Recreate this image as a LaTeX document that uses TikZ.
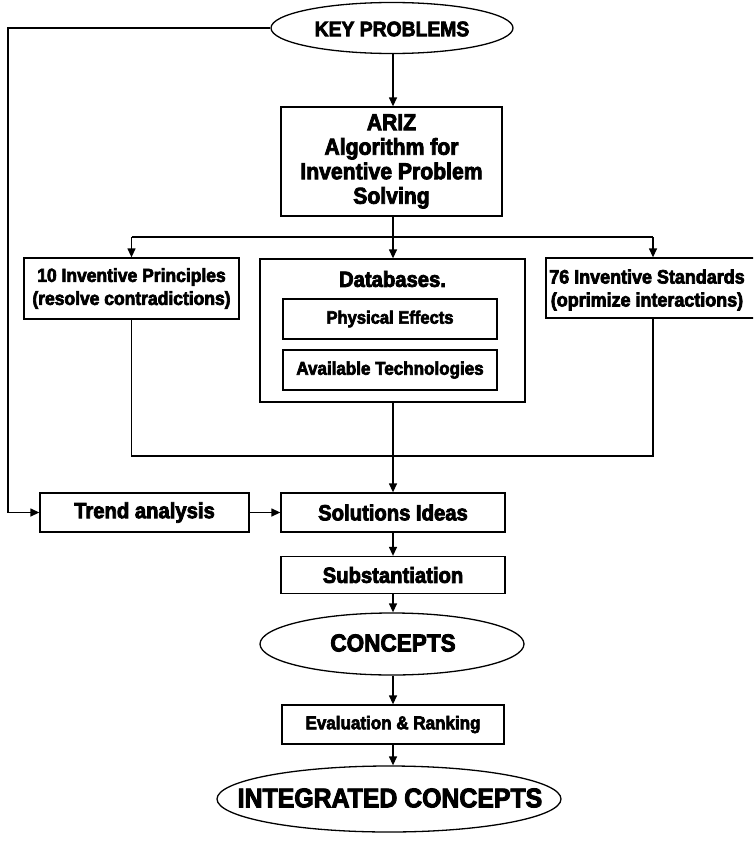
\documentclass[tikz,border=0pt]{standalone}
\usepackage{fontspec}
\newfontfamily\cf[FakeStretch=0.92,BoldFeatures={FakeBold=3.5}]{Liberation Sans}
\usetikzlibrary{shapes.geometric,arrows.meta}
\newcommand\fs[1]{\cf\bfseries\fontsize{#1}{#1}\selectfont}
\begin{document}
\begin{tikzpicture}[x=1pt,y=-1pt,
  line width=1.3pt,
  font=\cf\bfseries,
  box/.style={draw,rectangle,inner sep=0pt,align=center},
  oval/.style={draw,ellipse,inner sep=0pt,align=center},
  lbl/.style={inner sep=0pt,align=center},
  arr/.style={-{Triangle[length=9pt,width=8pt]}},
  ln/.style={-}]
\clip (0,0) rectangle (753,843);
\fill[white] (0,0) rectangle (753,843);

\node[oval,minimum width=242pt,minimum height=51pt] (kp) at (392,28) {};
\node[lbl,font=\fs{21}] (kpt) at (392,29) {KEY PROBLEMS};

\node[box,minimum width=221pt,minimum height=109pt,font={\fs{23}\baselineskip=24.5pt}] (ariz) at (391.5,161.5) {ARIZ\\Algorithm for\\Inventive Problem\\Solving};

\node[box,minimum width=215pt,minimum height=61pt,font={\fs{19}\baselineskip=23pt}] (ip) at (131.5,288.5) {10 Inventive Principles\\(resolve contradictions)};

\node[box,minimum width=265pt,minimum height=143pt] (db) at (392.5,330.5) {};
\node[lbl,font=\fs{22}] (dbt) at (392.5,279) {Databases.};
\node[box,minimum width=214pt,minimum height=40pt,font=\fs{18}] (pe) at (390,319) {Physical Effects};
\node[box,minimum width=214pt,minimum height=40pt,font=\fs{18.5}] (at) at (390,370) {Available Technologies};

\node[box,minimum width=212pt,minimum height=60pt] (is) at (652,288) {};
\node[lbl,font={\fs{19.5}\baselineskip=23pt}] (ist) at (647,290) {76 Inventive Standards\\(oprimize interactions)};

\node[box,minimum width=209pt,minimum height=39pt,font=\fs{22}] (tr) at (144.5,512.5) {Trend analysis};
\node[box,minimum width=224pt,minimum height=39pt,font=\fs{22}] (sol) at (393,512.5) {Solutions Ideas};
\node[box,minimum width=224pt,minimum height=37pt,font=\fs{22}] (sub) at (393,575) {Substantiation};

\node[oval,minimum width=264pt,minimum height=62pt] (con) at (392,644) {};
\node[lbl,font=\fs{24.5}] (cont) at (393,643) {CONCEPTS};

\node[box,minimum width=222pt,minimum height=39pt,font=\fs{18.5}] (ev) at (393,724.5) {Evaluation \& Ranking};

\node[oval,minimum width=344pt,minimum height=66pt] (ic) at (389,799) {};
\node[lbl,font=\fs{27}] (ict) at (390,798) {INTEGRATED CONCEPTS};

\coordinate (br) at (393,237);
\coordinate (bl) at (131.5,237);
\coordinate (brr) at (653,237);
\coordinate (cl) at (131.5,456);
\coordinate (cr) at (653,456);
\coordinate (lt) at (8,28);
\coordinate (lb) at (8,512.5);

% connectors
\draw[arr] (kp.south -| br) -- (br |- ariz.north);
\draw[ln] (ariz.south -| br) -- (br);
\draw[ln] (bl) -- (brr);
\draw[arr] (bl) -- (ip.north);
\draw[arr] (br) -- (br |- db.north);
\draw[arr] (brr) -- (brr |- is.north);
\draw[ln] (ip.south) -- (cl) -- (cr) -- (cr |- is.south);
\draw[arr] (db.south -| sol.north) -- (sol.north);
\draw[ln] (kp.west) -- (lt) -- (lb);
\draw[arr] (lb) -- (tr.west);
\draw[arr] (tr.east) -- (sol.west);
\draw[arr] (sol.south) -- (sub.north);
\draw[arr] (sub.south) -- (sub.south |- con.north);
\draw[arr] (con.south -| ev.north) -- (ev.north);
\draw[arr] (ev.south) -- (ev.south |- ic.north);
\end{tikzpicture}
\end{document}
